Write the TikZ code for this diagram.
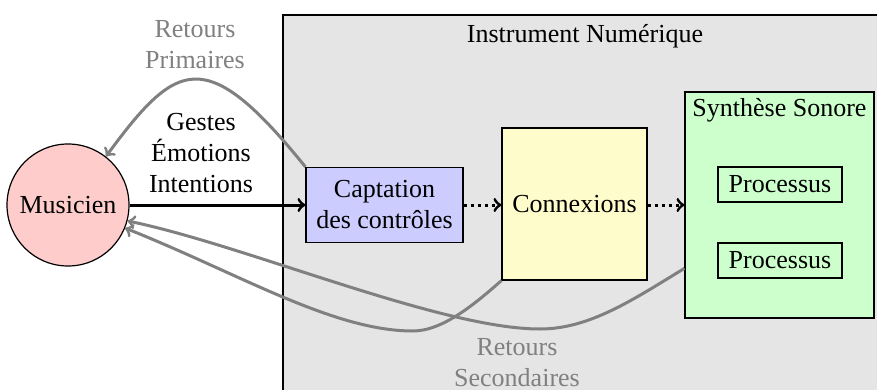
\documentclass[tikz,border=0pt]{standalone}
\usepackage{fontspec}
\setmainfont{Liberation Serif}
\usetikzlibrary{calc}
\begin{document}
\begin{tikzpicture}[x=0.5pt,y=-0.5pt,
  every node/.style={font=\fontsize{13}{15.5}\selectfont},
  box/.style={draw=black, line width=0.6pt, inner sep=0pt, align=center},
  fb/.style={draw=gray, line width=1.5pt, ->},
  flow/.style={draw=black, line width=1.5pt, ->}]
\useasboundingbox (0,0) rectangle (877,390);
\begin{scope}
  \clip (0,0) rectangle (877,390);
  \fill[gray!20] (283,15) rectangle (890,400);
  \draw[line width=0.6pt] (283,400) -- (283,15) -- (890,15);
\end{scope}
\node[anchor=base] (ti) at (585,43) {Instrument Numérique};
\node[circle, draw=black, line width=0.6pt, fill=red!20, minimum size=61pt, inner sep=0pt] (mus) at (68,205) {Musicien};
\node[box, fill=blue!20, minimum width=78.5pt, minimum height=37.5pt] (capt) at (384.5,205) {Captation\\des contrôles};
\node[box, fill=yellow!20, minimum width=72.5pt, minimum height=76pt] (con) at (574.5,204) {Connexions};
\node[box, fill=green!20, minimum width=94.5pt, minimum height=113pt] (syn) at (779.5,205) {};
\node[anchor=base] (synt) at (779.5,117) {Synthèse Sonore};
\node[box, minimum width=62pt, minimum height=17.5pt] (p1) at (780,184.5) {Processus};
\node[box, minimum width=62pt, minimum height=17.5pt] (p2) at (780,260.5) {Processus};
\node[align=center] (gei) at (201,153) {Gestes\\Émotions\\Intentions};
\node[gray, align=center] (rp) at (195,45) {Retours\\Primaires};
\node[gray, align=center] (rs) at (517,363) {Retours\\Secondaires};
\coordinate (s2) at ($(syn.north west)!0.779!(syn.south west)$);
\draw[flow] (mus.east) -- (mus.east -| capt.west);
\draw[flow, dotted] (capt.east) -- (capt.east -| con.west);
\draw[flow, dotted] (con.east |- capt.east) -- (capt.east -| syn.west);
\draw[fb] (capt.north west) .. controls (205.5,43.3) and (176.8,60.3) .. (mus.52);
\draw[fb] (con.south west) .. controls (476,303) and (443,331) .. (413,331)
  .. controls (333,331) and (240,274) .. (mus.-22);
\draw[fb] (s2) .. controls (634,299) and (590,329) .. (540,329)
  .. controls (440,329) and (245,245) .. (mus.-15);
\end{tikzpicture}
\end{document}
